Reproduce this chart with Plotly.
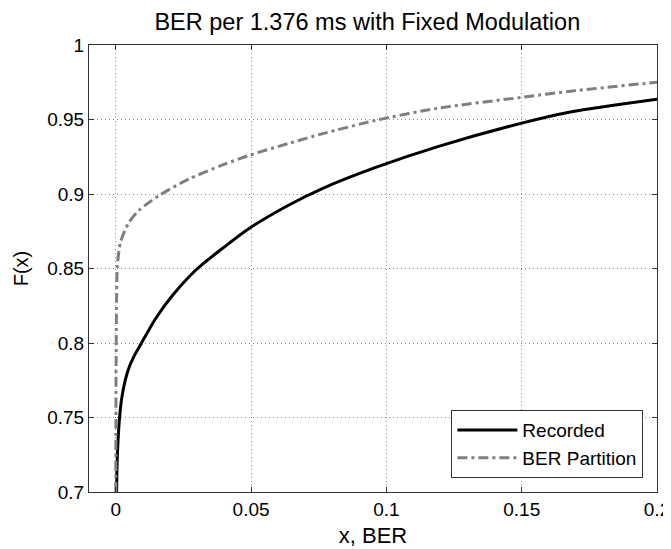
import plotly.graph_objects as go

# Recorded CDF (black solid)
rec_x = [0.0003, 0.0005, 0.0009, 0.0014, 0.0022, 0.0035, 0.0050, 0.0070, 0.0095,
         0.0148, 0.0210, 0.0296, 0.0395, 0.0494, 0.0640, 0.0765, 0.0963,
         0.1190, 0.1497, 0.1680, 0.2000]
rec_y = [0.700, 0.720, 0.737, 0.750, 0.763, 0.775, 0.784, 0.792, 0.800,
         0.8166, 0.832, 0.849, 0.8636, 0.877, 0.8926, 0.9038, 0.918,
         0.9318, 0.9474, 0.955, 0.9636]

# BER Partition CDF (gray dash-dot)
ber_x = [0.0000, 0.0001, 0.0003, 0.0006, 0.0018, 0.0049, 0.0086, 0.0160,
         0.0270, 0.0395, 0.0494, 0.0640, 0.0765, 0.0963, 0.1189, 0.1497,
         0.1680, 0.2000]
ber_y = [0.700, 0.780, 0.830, 0.852, 0.868, 0.881, 0.889, 0.899,
         0.910, 0.9195, 0.926, 0.934, 0.9405, 0.9495, 0.9575, 0.9648,
         0.9690, 0.975]

x_ticks = [0, 0.05, 0.1, 0.15, 0.2]
x_labels = ["0", "0.05", "0.1", "0.15", "0.2"]
y_ticks = [0.7, 0.75, 0.8, 0.85, 0.9, 0.95, 1.0]
y_labels = ["0.7", "0.75", "0.8", "0.85", "0.9", "0.95", "1"]

FONT = "Liberation Sans, Arial, Helvetica, sans-serif"

fig = go.Figure()
fig.add_trace(go.Scatter(x=rec_x, y=rec_y, mode="lines", name="Recorded",
                         line=dict(color="black", width=3, shape="spline", smoothing=0.8)))
fig.add_trace(go.Scatter(x=ber_x, y=ber_y, mode="lines", name="BER Partition",
                         line=dict(color="#7f7f7f", width=3, dash="10px,4px,3px,4px",
                                   shape="spline", smoothing=0.8)))

axis_common = dict(
    showline=True, mirror="ticks", linecolor="#333333", linewidth=1,
    ticks="inside", ticklen=5, tickcolor="#333333",
    showgrid=True, gridcolor="#8a8a8a", gridwidth=1, griddash="1px,3px",
    zeroline=False, automargin=False,
    tickfont=dict(family=FONT, size=19, color="black"),
)

# page body has an 8px margin, so the figure is shifted by 8px right/down
fig.update_layout(
    width=663, height=541,
    margin=dict(l=81, r=14, t=37, b=57),
    paper_bgcolor="white", plot_bgcolor="white",
    font=dict(family=FONT, color="black"),
    title=dict(text="BER per 1.376 ms with Fixed Modulation", x=0.49, xanchor="center",
               xref="paper", y=1 - 14 / 541, yanchor="middle",
               font=dict(family=FONT, size=23.5, color="black")),
    xaxis=dict(range=[-0.0099, 0.2], tickvals=x_ticks, ticktext=x_labels,
               title=dict(text="x, BER", font=dict(family=FONT, size=22), standoff=8),
               **axis_common),
    yaxis=dict(range=[0.7, 1.0], tickvals=y_ticks, ticktext=y_labels,
               title=dict(text="F(x)", font=dict(family=FONT, size=20), standoff=13),
               **axis_common),
    legend=dict(x=0.976, y=0.031, xanchor="right", yanchor="bottom",
                bgcolor="white", bordercolor="#333333", borderwidth=1,
                font=dict(family=FONT, size=19, color="black"),
                itemwidth=60, tracegroupgap=0),
    showlegend=True,
)

fig.write_html("out.html")
